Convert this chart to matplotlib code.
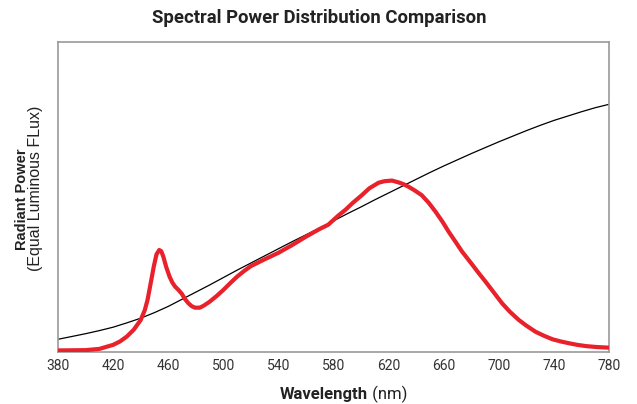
import matplotlib
matplotlib.use("Agg")
import matplotlib.pyplot as plt

# Reference (black) curve
ref_nm = [380, 390, 400, 410, 420, 430, 440, 450, 460, 470, 480, 490, 500, 510, 520,
          530, 540, 550, 560, 570, 580, 590, 600, 610, 620, 630, 640, 650, 660, 670,
          680, 690, 700, 710, 720, 730, 740, 750, 760, 770, 780]
ref_pow = [0.041, 0.050, 0.059, 0.069, 0.080, 0.094, 0.109, 0.127, 0.147, 0.170,
           0.193, 0.216, 0.240, 0.264, 0.287, 0.310, 0.333, 0.356, 0.378, 0.400,
           0.423, 0.446, 0.468, 0.491, 0.513, 0.535, 0.557, 0.579, 0.600, 0.620,
           0.640, 0.659, 0.678, 0.696, 0.714, 0.731, 0.747, 0.761, 0.775, 0.788, 0.799]

# LED (red) curve
led_nm = [380, 400, 410, 420, 425, 430, 435, 440, 443, 445, 447, 449.5, 451.5, 453.5,
          455, 456.5, 458.5, 461, 463, 465, 467.5, 470, 472, 474.5, 477, 479.5, 483,
          486, 490, 495, 500, 505, 510, 515, 520, 530, 540, 550, 560, 570, 576, 580,
          584, 588.5, 594, 600.6, 606, 612.7, 617, 622.5, 628, 631, 634.5, 639, 644,
          649, 654, 659, 663.6, 668.5, 673.3, 680, 685.5, 690, 695, 702.4, 708,
          714.6, 720, 726.8, 733, 739, 745, 751.2, 757, 763.4, 771, 780]
led_pow = [0.005, 0.006, 0.010, 0.023, 0.034, 0.050, 0.072, 0.103, 0.135, 0.168,
           0.215, 0.275, 0.315, 0.329, 0.325, 0.307, 0.275, 0.243, 0.224, 0.211,
           0.200, 0.187, 0.172, 0.158, 0.148, 0.143, 0.143, 0.150, 0.162, 0.180,
           0.200, 0.222, 0.243, 0.261, 0.277, 0.299, 0.320, 0.345, 0.372, 0.397,
           0.410, 0.426, 0.442, 0.458, 0.481, 0.506, 0.528, 0.546, 0.551, 0.553,
           0.546, 0.541, 0.533, 0.521, 0.506, 0.482, 0.453, 0.421, 0.388, 0.356,
           0.324, 0.286, 0.254, 0.229, 0.200, 0.157, 0.130, 0.103, 0.085, 0.065,
           0.052, 0.041, 0.034, 0.028, 0.023, 0.019, 0.016, 0.014]

xticks = [380, 420, 460, 500, 540, 580, 620, 660, 700, 740, 780]

plt.rcParams['font.family'] = ['Roboto', 'DejaVu Sans']

fig = plt.figure(figsize=(6.37, 4.04), dpi=100)
ax = fig.add_axes([58/637, 1 - 352/404, 551/637, 310/404])

ax.plot(ref_nm, ref_pow, color='black', lw=0.9, zorder=2)
ax.plot(led_nm, led_pow, color='#E8212B', lw=3.0, solid_joinstyle='round',
        solid_capstyle='butt', zorder=3)

ax.set_xlim(380, 780)
ax.set_ylim(0, 1)
ax.set_xticks(xticks)
ax.set_xticklabels([str(t) for t in xticks])
ax.set_yticks([])
ax.tick_params(axis='x', length=0, pad=5, labelsize=10, labelcolor='#333333')
for s in ax.spines.values():
    s.set_color('#9a9a9a')
    s.set_linewidth(1.2)

fig.text(319/637, 1 - 18/404, 'Spectral Power Distribution Comparison', ha='center',
         va='center', fontsize=13.3, fontweight='bold', color='#222222')

fig.text(368/637, 1 - 394/404, 'Wavelength', ha='right', va='center',
         fontsize=12, fontweight='bold', color='#222222')
fig.text(368/637, 1 - 394/404, ' (nm)', ha='left', va='center', fontsize=12,
         color='#222222')

fig.text(22/637, 1 - 199/404, 'Radiant Power', rotation=90, ha='center', va='center',
         fontsize=10.5, fontweight='bold', family=['Liberation Sans', 'DejaVu Sans'],
         color='#222222')
fig.text(36/637, 1 - 188/404, '(Equal Luminous FLux)', rotation=90, ha='center',
         va='center', fontsize=11.5, family=['Liberation Sans', 'DejaVu Sans'],
         color='#222222')

fig.savefig('out.png', dpi=100)
